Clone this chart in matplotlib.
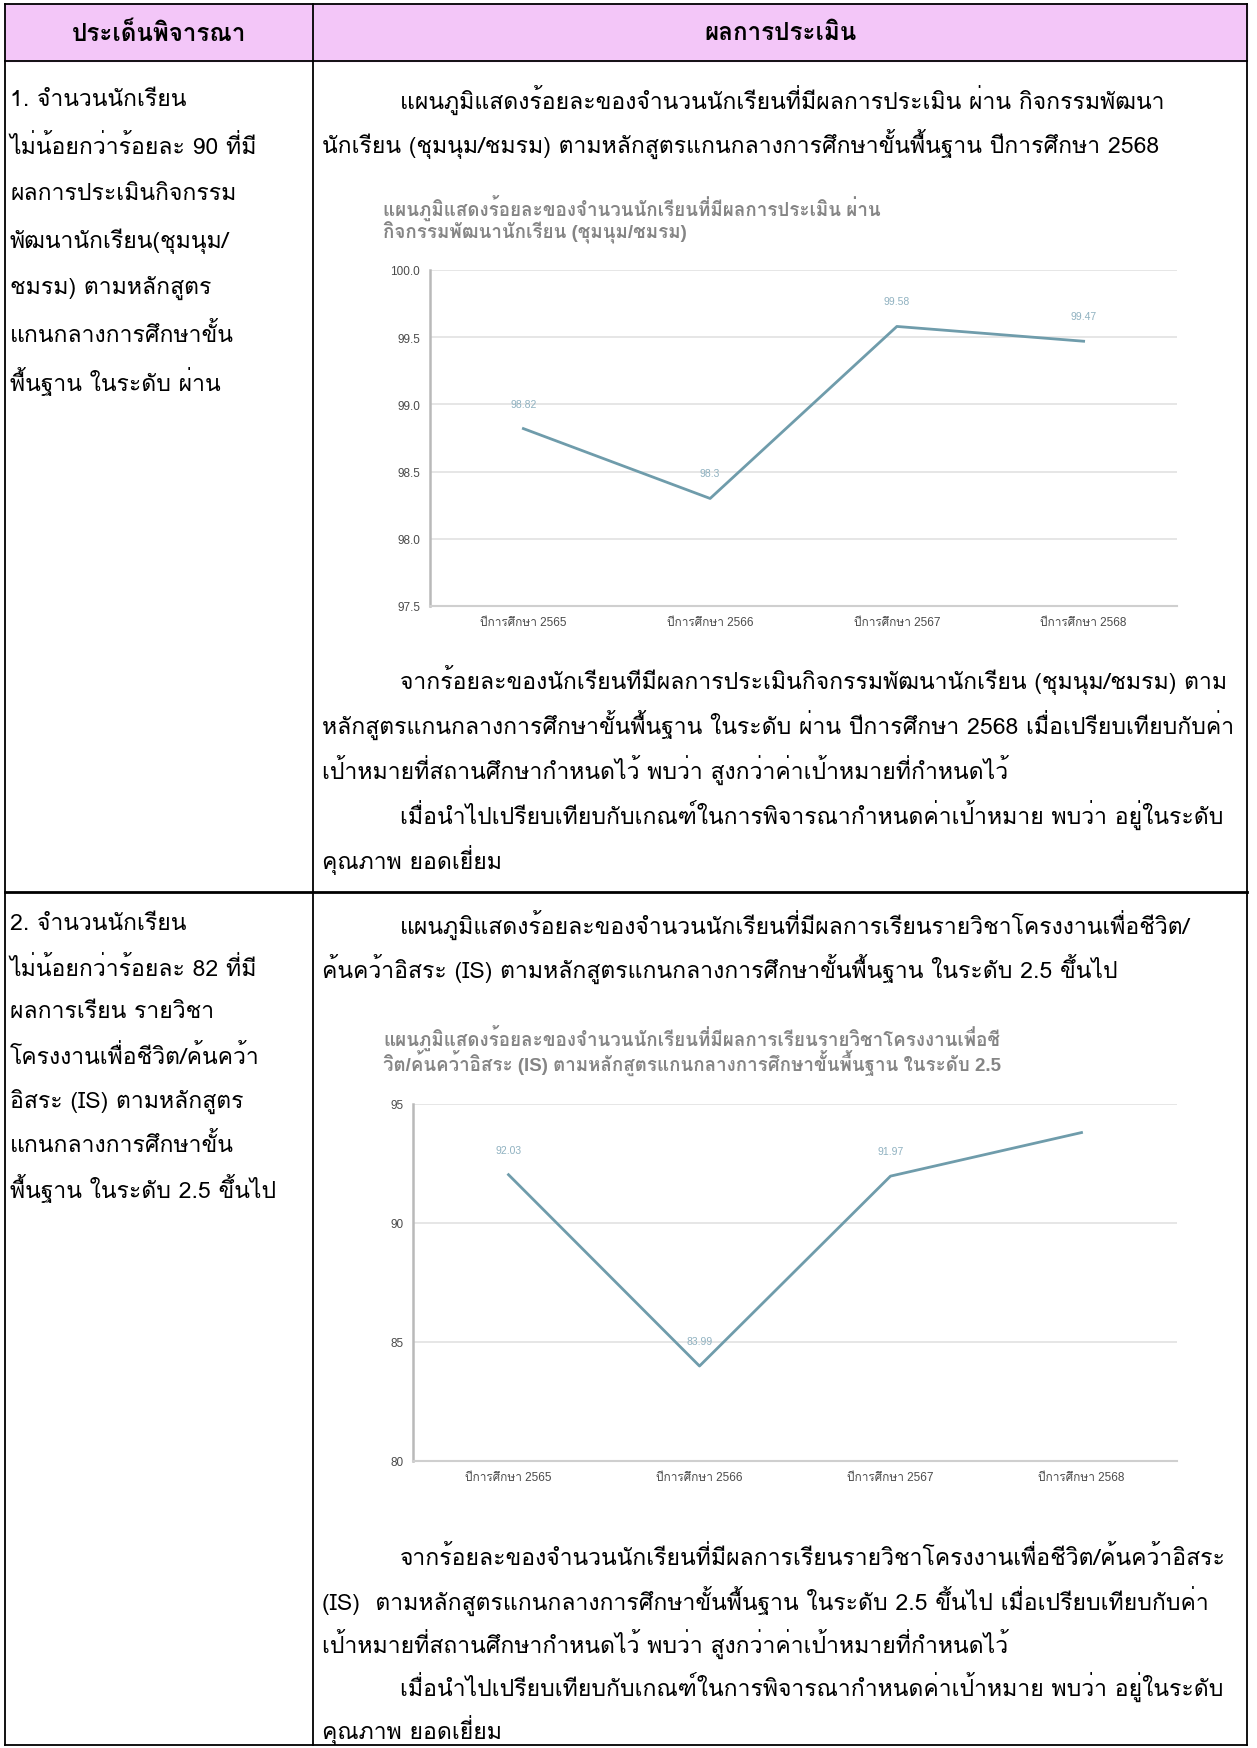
import numpy as np
import matplotlib
matplotlib.use('Agg')
import matplotlib.pyplot as plt
from matplotlib import font_manager
from matplotlib.ft2font import FT2Font

# ---- data ----
years = ['ปีการศึกษา 2565', 'ปีการศึกษา 2566', 'ปีการศึกษา 2567', 'ปีการศึกษา 2568']
club_pass = [98.82, 98.3, 99.58, 99.47]      # chart 1, % passing clubs
is_pass = [92.03, 83.99, 91.97, 93.8]         # chart 2, % IS grade >= 2.5
is_show = [True, True, True, False]           # last label not visible in chart 2

head_left = 'ประเด็นพิจารณา'
head_right = 'ผลการประเมิน'

left1 = ['1. จำนวนนักเรียน', 'ไม่น้อยกว่าร้อยละ 90 ที่มี', 'ผลการประเมินกิจกรรม',
         'พัฒนานักเรียน(ชุมนุม/', 'ชมรม) ตามหลักสูตร', 'แกนกลางการศึกษาขั้น',
         'พื้นฐาน ในระดับ ผ่าน']
left2 = ['2. จำนวนนักเรียน', 'ไม่น้อยกว่าร้อยละ 82 ที่มี', 'ผลการเรียน รายวิชา',
         'โครงงานเพื่อชีวิต/ค้นคว้า', 'อิสระ (IS) ตามหลักสูตร', 'แกนกลางการศึกษาขั้น',
         'พื้นฐาน ในระดับ 2.5 ขึ้นไป']

intro1 = ['แผนภูมิแสดงร้อยละของจำนวนนักเรียนที่มีผลการประเมิน ผ่าน กิจกรรมพัฒนา',
          'นักเรียน (ชุมนุม/ชมรม) ตามหลักสูตรแกนกลางการศึกษาขั้นพื้นฐาน ปีการศึกษา 2568']
intro2 = ['แผนภูมิแสดงร้อยละของจำนวนนักเรียนที่มีผลการเรียนรายวิชาโครงงานเพื่อชีวิต/',
          'ค้นคว้าอิสระ (IS) ตามหลักสูตรแกนกลางการศึกษาขั้นพื้นฐาน ในระดับ 2.5 ขึ้นไป']
title1 = ['แผนภูมิแสดงร้อยละของจำนวนนักเรียนที่มีผลการประเมิน ผ่าน',
          'กิจกรรมพัฒนานักเรียน (ชุมนุม/ชมรม)']
title2 = ['แผนภูมิแสดงร้อยละของจำนวนนักเรียนที่มีผลการเรียนรายวิชาโครงงานเพื่อชี',
          'วิต/ค้นคว้าอิสระ (IS) ตามหลักสูตรแกนกลางการศึกษาขั้นพื้นฐาน ในระดับ 2.5']
after1 = ['จากร้อยละของนักเรียนทีมีผลการประเมินกิจกรรมพัฒนานักเรียน (ชุมนุม/ชมรม) ตาม',
          'หลักสูตรแกนกลางการศึกษาขั้นพื้นฐาน ในระดับ ผ่าน ปีการศึกษา 2568 เมื่อเปรียบเทียบกับค่า',
          'เป้าหมายที่สถานศึกษากำหนดไว้ พบว่า สูงกว่าค่าเป้าหมายที่กำหนดไว้',
          'เมื่อนำไปเปรียบเทียบกับเกณฑ์ในการพิจารณากำหนดค่าเป้าหมาย พบว่า อยู่ในระดับ',
          'คุณภาพ ยอดเยี่ยม']
after2 = ['จากร้อยละของจำนวนนักเรียนที่มีผลการเรียนรายวิชาโครงงานเพื่อชีวิต/ค้นคว้าอิสระ',
          '(IS)  ตามหลักสูตรแกนกลางการศึกษาขั้นพื้นฐาน ในระดับ 2.5 ขึ้นไป เมื่อเปรียบเทียบกับค่า',
          'เป้าหมายที่สถานศึกษากำหนดไว้ พบว่า สูงกว่าค่าเป้าหมายที่กำหนดไว้',
          'เมื่อนำไปเปรียบเทียบกับเกณฑ์ในการพิจารณากำหนดค่าเป้าหมาย พบว่า อยู่ในระดับ',
          'คุณภาพ ยอดเยี่ยม']
after_indent = [True, False, False, True, False]

# ---- pick a font that has thai glyphs (Loma looks closest) ----
thai_fonts = []
for f in font_manager.fontManager.ttflist:
    try:
        if 0x0E01 in FT2Font(f.fname).get_charmap() and f.name not in thai_fonts:
            thai_fonts.append(f.name)
    except Exception:
        pass
thai = 'Loma' if 'Loma' in thai_fonts else (thai_fonts[0] if thai_fonts else 'DejaVu Sans')
body_fam = [thai, 'DejaVu Sans']
chart_fam = ['Liberation Sans', thai, 'DejaVu Sans']

W, H = 1257, 1749
fig = plt.figure(figsize=(W / 100, H / 100), dpi=100)
bg = fig.add_axes([0, 0, 1, 1])
bg.set_xlim(0, W)
bg.set_ylim(H, 0)
bg.axis('off')

# table frame
x0, xd, x1 = 5, 313, 1247
y0, yh, yr, y1 = 5, 62, 893, 1746
bg.add_patch(plt.Rectangle((x0, y0), x1 - x0, yh - y0, color='#f3c6f8', zorder=0))
for y in [y0, yh, y1]:
    bg.plot([x0, x1], [y, y], color='black', lw=1.3)
bg.plot([x0, x1], [yr, yr], color='black', lw=2)
for x in [x0, xd, x1]:
    bg.plot([x, x], [y0, y1], color='black', lw=1.3)

# fit body font size to a full-width line
fig.canvas.draw()
rend = fig.canvas.get_renderer()
t = bg.text(0, 0, after1[1], fontsize=15, family=body_fam)
body_fs = 15 * 913 / t.get_window_extent(rend).width
t.remove()
title_fs = 13.5

bg.text((x0 + xd) / 2, 34, head_left, ha='center', va='center', fontsize=body_fs * 1.05,
        weight='bold', family=body_fam)
bg.text((xd + x1) / 2, 34, head_right, ha='center', va='center', fontsize=body_fs * 1.05,
        weight='bold', family=body_fam)

def lines(x, y, rows, gap, indent=None):
    for i, s in enumerate(rows):
        xx = x + (78 if indent is not None and indent[i] else 0)
        bg.text(xx, y + i * gap, s, va='center', fontsize=body_fs, family=body_fam)

lines(10, 100, left1, 47)
lines(10, 925, left2, 44)
lines(322, 100, intro1, 44, [True, False])
lines(322, 925, intro2, 44, [True, False])
lines(322, 680, after1, 45, after_indent)
lines(322, 1558, after2, 43, after_indent)

line_c = '#6f9cab'
lab_c = '#8fb1c0'

def chart(top, bottom, left, right, vals, show, lo, hi, step, fmt, title, ty):
    ax = fig.add_axes([left / W, 1 - bottom / H, (right - left) / W, (bottom - top) / H])
    xs = np.arange(len(vals))
    ax.plot(xs, vals, color=line_c, lw=2)
    for x, v, s in zip(xs, vals, show):
        if s:
            ax.annotate(f'{v:g}', (x, v), xytext=(0, 25), textcoords='offset pixels',
                        ha='center', va='center', fontsize=7.5, color=lab_c, family=chart_fam)
    ax.set_xlim(-0.5, len(vals) - 0.5)
    ax.set_ylim(lo, hi)
    ticks = np.arange(lo, hi + step / 2, step)
    ax.set_yticks(ticks)
    ax.set_yticklabels([fmt.format(v) for v in ticks])
    ax.set_xticks(xs)
    ax.set_xticklabels(years)
    ax.grid(axis='y', color='#e4e4e4', lw=1.3)
    ax.set_axisbelow(True)
    for s in ['top', 'right']:
        ax.spines[s].set_visible(False)
    ax.spines['left'].set_color('#b9b9b9')
    ax.spines['left'].set_linewidth(1.8)
    ax.spines['bottom'].set_color('#cfcfcf')
    ax.spines['bottom'].set_linewidth(1.5)
    ax.tick_params(length=0, labelsize=8.5, colors='#4a4a4a', pad=7)
    for lb in ax.get_xticklabels() + ax.get_yticklabels():
        lb.set_family(chart_fam)
    for i, s in enumerate(title):
        bg.text(383, ty + i * 25, s, va='center', fontsize=title_fs, weight='bold',
                color='#858585', family=chart_fam)

chart(271, 607, 430, 1177, club_pass, [True] * 4, 97.5, 100.0, 0.5, '{:.1f}', title1, 208)
chart(1105, 1462, 413, 1177, is_pass, is_show, 80, 95, 5, '{:.0f}', title2, 1038)

fig.savefig('out.png', dpi=100)
